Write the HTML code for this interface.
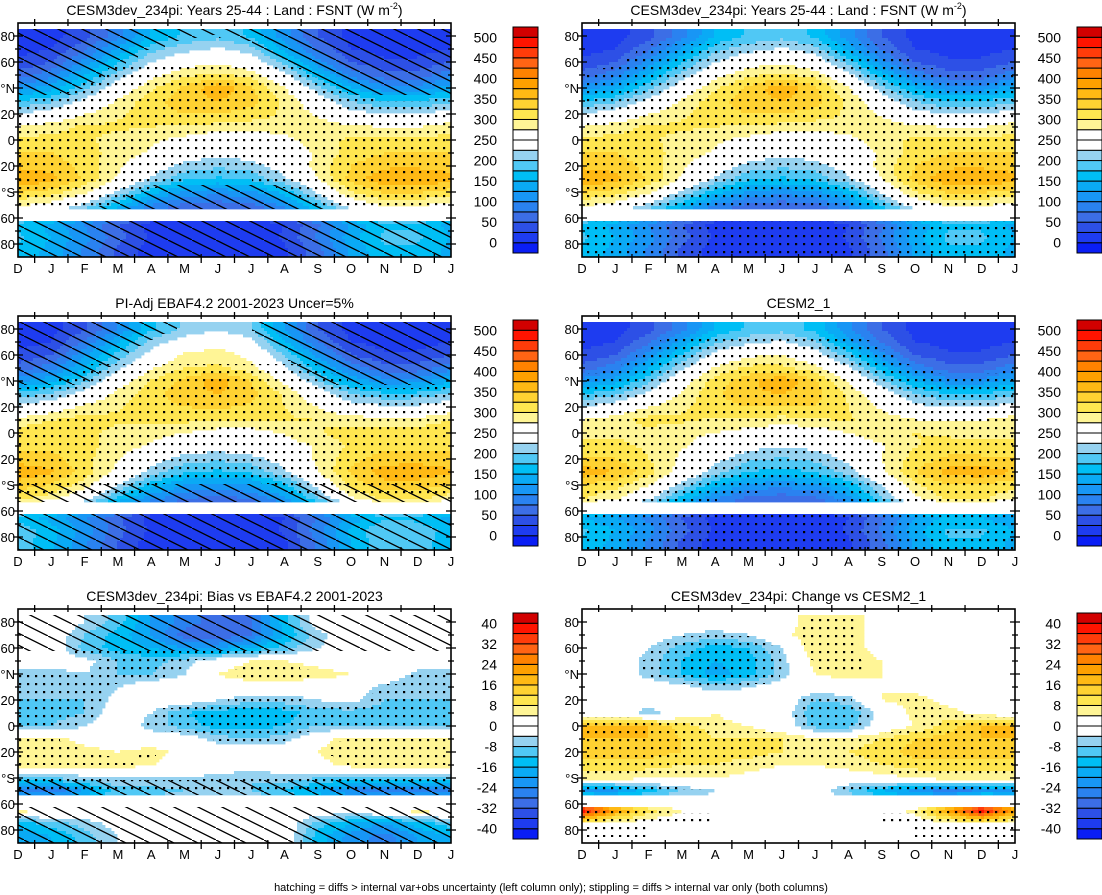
<!DOCTYPE html>
<html><head><meta charset="utf-8"><style>
html,body{margin:0;padding:0;background:#fff;}
svg{display:block;font-family:"Liberation Sans",Arial,sans-serif;}
</style></head><body>
<svg id="fig" xmlns="http://www.w3.org/2000/svg" width="1102" height="895" viewBox="0 0 1102 895">
<defs>
<pattern id="dots" patternUnits="userSpaceOnUse" width="8" height="8"><rect x="3" y="3" width="2.2" height="2.2" fill="#000"/></pattern>
<pattern id="hatch" patternUnits="userSpaceOnUse" width="24" height="12"><line x1="-2" y1="-1" x2="26" y2="13" stroke="#000" stroke-width="1.3"/></pattern>
</defs>
<text x="551" y="891" font-size="11" text-anchor="middle">hatching = diffs &gt; internal var+obs uncertainty (left column only); stippling = diffs &gt; internal var only (both columns)</text>
</svg>
<script>
const LATS=[80,70,60,50,40,30,20,10,0,-10,-20,-30,-40,-50,-65,-75,-85];
const MONTHS=['D','J','F','M','A','M','J','J','A','S','O','N','D','J'];
const FSNT_TICKS=[0,50,100,150,200,250,300,350,400,450,500];
const DIFF_TICKS=[-40,-32,-24,-16,-8,0,8,16,24,32,40];
const LAT_TICKS=[80,60,40,20,0,-20,-40,-60,-80];
const LAT_LABELS=['80','60','°N','20','0','20','°S','60','80'];

const modelFSNT=[
[10,15,40,90,150,180,190,170,110,50,15,10,10,15],
[15,25,70,130,190,215,230,210,140,70,25,15,15,25],
[30,50,110,170,225,260,270,250,190,110,50,30,30,50],
[60,90,150,210,265,295,305,290,235,160,90,60,60,90],
[110,140,190,250,295,330,370,330,275,210,150,110,110,140],
[175,195,235,280,315,340,350,335,295,250,200,175,175,195],
[225,245,275,295,315,325,325,315,295,270,240,225,225,245],
[275,290,305,305,300,295,290,285,290,290,280,275,275,290],
[305,310,305,290,280,265,245,245,265,290,305,305,305,310],
[325,325,310,290,270,245,235,240,255,280,310,325,325,325],
[345,340,315,280,245,215,205,215,240,285,325,345,345,340],
[375,360,320,270,220,180,170,180,220,275,335,370,375,360],
[330,315,280,220,160,120,110,120,160,230,300,330,330,315],
[280,260,220,160,100,70,60,70,110,180,245,280,280,260],
[170,140,100,50,15,5,0,5,25,70,130,170,170,140],
[180,150,110,60,20,5,0,5,30,80,140,180,180,150],
[170,140,95,45,10,0,0,0,20,65,130,170,170,140]];
const obsFSNT=[
[10,15,45,100,170,205,220,200,125,50,15,10,10,15],
[15,25,80,145,210,245,262,240,155,75,25,15,15,25],
[30,50,120,185,240,280,290,265,200,115,50,30,30,50],
[60,90,152,218,272,300,305,285,232,160,90,60,60,90],
[115,145,194,258,302,333,365,322,267,204,146,108,115,145],
[183,203,243,284,315,340,350,335,295,250,200,181,183,203],
[233,253,283,297,315,325,329,321,301,274,242,233,233,253],
[285,300,313,305,304,307,304,301,304,300,290,285,285,300],
[313,318,309,290,286,275,259,259,277,298,313,313,313,318],
[319,319,308,290,270,245,241,248,261,278,304,319,319,319],
[339,334,309,276,239,213,205,215,240,281,317,337,339,334],
[369,354,314,264,216,178,170,180,220,273,329,364,369,354],
[338,323,286,224,164,124,116,128,166,238,310,340,338,323],
[308,288,240,170,110,78,66,78,122,198,269,308,308,288],
[165,140,105,55,15,5,0,5,25,75,135,172,165,140],
[195,160,115,60,20,5,0,5,30,90,155,200,195,160],
[190,156,105,49,10,0,0,0,20,79,152,196,190,156]];
const cesm2FSNT=[
[10,15,40,90,150,180,190,166,106,50,15,10,10,15],
[15,25,70,134,196,219,230,204,136,70,25,15,15,25],
[30,50,110,178,237,270,274,244,186,110,50,30,30,50],
[60,90,150,220,279,307,307,286,233,160,90,60,60,90],
[110,140,194,262,311,342,374,328,271,208,150,110,110,140],
[175,195,235,280,321,344,350,335,295,248,200,175,175,195],
[225,245,275,295,315,325,325,323,301,268,236,225,225,245],
[275,290,311,305,296,295,290,297,302,292,276,271,275,290],
[289,294,289,280,274,261,245,255,275,290,301,295,289,294],
[309,309,294,278,262,237,227,234,249,272,298,311,309,309],
[331,326,301,268,235,205,197,207,232,275,311,331,331,326],
[365,350,310,262,212,174,166,176,214,267,325,360,365,350],
[324,309,276,216,156,118,110,120,160,228,296,324,324,309],
[304,282,234,168,104,70,60,70,118,196,267,308,304,282],
[150,125,92,48,15,5,0,5,25,70,125,158,150,125],
[180,150,110,60,20,5,0,5,30,80,140,180,180,150],
[170,140,95,45,10,0,0,0,20,65,130,170,170,140]];
const biasObs=[
[0,0,-4,-10,-20,-26,-30,-28,-14,0,0,0,0,0],
[0,0,-8,-14,-20,-30,-32,-28,-16,-6,0,0,0,0],
[0,0,-10,-14,-16,-20,-20,-16,-10,-4,0,0,0,0],
[0,0,-2,-8,-10,-6,0,4,4,2,0,0,0,0],
[-6,-6,-4,-8,-8,-4,4,8,8,6,4,2,-6,-6],
[-8,-8,-8,-4,0,0,0,0,0,0,0,-6,-8,-8],
[-8,-8,-8,-2,0,0,-4,-6,-6,-4,-2,-8,-8,-8],
[-10,-10,-8,0,-4,-12,-14,-16,-14,-10,-10,-10,-10,-10],
[-8,-8,-4,0,-6,-10,-14,-14,-12,-8,-8,-8,-8,-8],
[6,6,2,0,0,0,-6,-8,-6,2,6,6,6,6],
[6,6,6,4,6,2,0,0,0,4,8,8,6,6],
[6,6,6,6,4,2,0,0,0,2,6,6,6,6],
[-8,-8,-6,-4,-4,-4,-6,-8,-6,-8,-10,-10,-8,-8],
[-28,-28,-20,-10,-10,-8,-6,-8,-12,-18,-24,-28,-28,-28],
[6,4,0,0,0,0,0,0,0,0,0,4,6,4],
[-14,-10,-6,-2,0,0,0,0,0,-10,-16,-20,-14,-10],
[-20,-16,-10,-4,0,0,0,0,0,-14,-22,-26,-20,-16]];
const changeCesm2=[
[0,0,0,0,0,0,2,6,6,2,0,0,0,0],
[0,0,0,-4,-6,-4,2,8,6,2,0,0,0,0],
[0,0,-4,-10,-14,-12,-4,8,6,2,0,0,0,0],
[0,0,-6,-12,-16,-14,-6,6,6,4,0,0,0,0],
[0,0,-6,-12,-18,-14,-6,4,6,4,2,0,0,0],
[0,0,0,-2,-6,-4,0,0,0,4,2,0,0,0],
[0,0,-2,0,0,0,0,-8,-6,4,6,2,0,0],
[0,0,-6,0,4,0,0,-12,-12,-2,6,6,2,0],
[16,16,16,10,6,4,0,-10,-10,0,4,10,16,16],
[16,16,16,12,8,8,8,6,6,8,12,14,16,16],
[14,14,14,12,10,10,8,8,8,10,14,14,14,14],
[10,10,10,8,8,6,4,4,6,8,10,10,10,10],
[6,6,4,4,4,2,0,0,0,2,4,6,6,6],
[-24,-22,-14,-8,-4,0,0,0,-8,-16,-22,-28,-24,-22],
[40,22,10,4,0,0,0,0,0,0,6,22,40,22],
[4,2,0,0,0,0,0,0,0,0,0,2,4,2],
[0,0,0,0,0,0,0,0,0,0,0,0,0,0]];

const COLORS=['#0a1ef5','#1e3cf0','#2d50e6','#3c6ee6','#2a82f0','#1896f5','#0aaaf5','#00bef5','#50c8f5','#96d2f0','#ffffff','#ffffff','#fff596','#ffe650','#ffd232','#ffb914','#ffa000','#ff8200','#ff6414','#ff3c0a','#ff1400','#d20000'];

const NS='http://www.w3.org/2000/svg';
const svg=document.getElementById('fig');
function el(tag,attrs,parent){const e=document.createElementNS(NS,tag);for(const k in attrs)e.setAttribute(k,attrs[k]);(parent||svg).appendChild(e);return e;}

const panels=[
{name:'model-fsnt-left',x0:18,y0:23,grid:modelFSNT,kind:'fsnt',title:'CESM3dev_234pi: Years 25-44 : Land : FSNT (W m',sup:'-2',
 hatch:(v,l)=>v<190&&Math.abs(l)>35, stip:(v,l)=>v>=175&&v<400&&l>-50&&l<58},
{name:'model-fsnt-right',x0:582,y0:23,grid:modelFSNT,kind:'fsnt',title:'CESM3dev_234pi: Years 25-44 : Land : FSNT (W m',sup:'-2',
 hatch:()=>false, stip:(v,l)=>(v>60&&v<390&&l<75)||l<-63},
{name:'obs-fsnt',x0:18,y0:316,grid:obsFSNT,kind:'fsnt',title:'PI-Adj EBAF4.2 2001-2023 Uncer=5%',
 hatch:(v,l)=>(v<200&&l>38)||l<-40, stip:(v,l)=>l>-50&&l<52&&v>150},
{name:'cesm2-fsnt',x0:582,y0:316,grid:cesm2FSNT,kind:'fsnt',title:'CESM2_1',
 hatch:()=>false, stip:(v,l)=>(v>90&&v<390&&l<75)||l<-63},
{name:'bias-vs-obs',x0:18,y0:609,grid:biasObs,kind:'diff',title:'CESM3dev_234pi: Bias vs EBAF4.2 2001-2023',
 hatch:(v,l)=>l>58||l<-42, stip:(v,l)=>Math.abs(v)>=5&&l<58&&l>-50},
{name:'change-vs-cesm2',x0:582,y0:609,grid:changeCesm2,kind:'diff',title:'CESM3dev_234pi: Change vs CESM2_1',
 hatch:()=>false, stip:(v,l)=>Math.abs(v)>=5||(l<-66&&l>-85&&(v!==0))}
];
const W=433,H=234;

function interp(grid,lat,fx){
  let r0,r1,t;
  if(lat>=LATS[0]){r0=r1=0;t=0;}
  else if(lat<=LATS[LATS.length-1]){r0=r1=LATS.length-1;t=0;}
  else{for(let i=0;i<LATS.length-1;i++){if(lat<=LATS[i]&&lat>=LATS[i+1]){r0=i;r1=i+1;t=(LATS[i]-lat)/(LATS[i]-LATS[i+1]);break;}}}
  const c0=Math.min(12,Math.floor(fx)),u=fx-c0;
  const a=grid[r0][c0]*(1-u)+grid[r0][c0+1]*u;
  const b=grid[r1][c0]*(1-u)+grid[r1][c0+1]*u;
  return a*(1-t)+b*t;
}
function levelIndex(v,kind){
  let k;
  if(kind==='fsnt')k=v<0?0:Math.floor(v/25)+1;
  else k=v<-40?0:Math.floor((v+40)/4)+1;
  return Math.max(0,Math.min(21,k));
}

panels.forEach(p=>{
  const g=el('g',{});
  
  
  const fld=el('g',{},g);
  
  
  const ov=el('g',{},g);
  
  
  const cw=3,chh=3;
  const nx=Math.ceil(W/cw),ny=Math.ceil(H/chh);
  for(let j=0;j<ny;j++){
    const y=p.y0+j*chh, hh=Math.min(chh,p.y0+H-y);
    const lat=90-((j+0.5)*chh)/H*180;
    if(lat>85||(lat<-54&&lat>-63))continue;
    let runStart=0;
    const ks=[],hv=[],sv=[];
    for(let i=0;i<nx;i++){
      const fx=((i+0.5)*cw)/W*13;
      const v=interp(p.grid,lat,fx);
      ks.push(levelIndex(v,p.kind));hv.push(p.hatch(v,lat));sv.push(p.stip(v,lat));
    }
    ks.push(-1);hv.push(null);sv.push(null);
    for(let i=1;i<=nx;i++){
      if(ks[i]!==ks[runStart]){
        const k=ks[runStart];
        if(COLORS[k]!=='#ffffff'){
          const x=p.x0+runStart*cw,w=Math.min(i*cw,W)-runStart*cw;
          const r=el('rect',{x:x,y:y,width:w+0.4,height:hh+0.4,fill:COLORS[k]},fld);
          
          
        }
        runStart=i;
      }
    }
    [[hv,'url(#hatch)','hatch-region'],[sv,'url(#dots)','stipple-region']].forEach(([arr,fill,nm])=>{
      let s=0;
      for(let i=1;i<=nx;i++){
        if(arr[i]!==arr[s]){
          if(arr[s]){
            const x=p.x0+s*cw,w=Math.min(i*cw,W)-s*cw;
            const r=el('rect',{x:x,y:y,width:w,height:hh,fill:fill},ov);
            
            
          }
          s=i;
        }
      }
    });
  }
  const fr=el('rect',{x:p.x0,y:p.y0,width:W,height:H,fill:'none',stroke:'#000','stroke-width':1.6},g);
  
  
  for(let l=-80;l<=80;l+=10){
    const y=p.y0+(90-l)/180*H, len=(l%20===0)?5:3;
    el('line',{x1:p.x0-len,x2:p.x0+len,y1:y,y2:y,stroke:'#000','stroke-width':1.3},g);
    el('line',{x1:p.x0+W-len,x2:p.x0+W+len,y1:y,y2:y,stroke:'#000','stroke-width':1.3},g);
  }
  LAT_TICKS.forEach((l,i)=>{
    const t=el('text',{x:p.x0-3,y:p.y0+(90-l)/180*H+5,'font-size':13,'text-anchor':'end'},g);
    t.textContent=LAT_LABELS[i];
    
    
  });
  MONTHS.forEach((m,i)=>{
    const x=p.x0+i*W/13;
    const t=el('text',{x:x,y:p.y0+H+16,'font-size':13,'text-anchor':'middle'},g);
    t.textContent=m;
    
    
    if(i<13){const xm=x+W/26;
      el('line',{x1:xm,x2:xm,y1:p.y0+H-3,y2:p.y0+H+6,stroke:'#000','stroke-width':1.3},g);
      el('line',{x1:xm,x2:xm,y1:p.y0-4,y2:p.y0+3,stroke:'#000','stroke-width':1.3},g);}
  });
  const tt=el('text',{x:p.x0+W/2,y:p.y0-8,'font-size':14,'text-anchor':'middle'},g);
  
  
  tt.appendChild(document.createTextNode(p.title));
  if(p.sup){const s=el('tspan',{'font-size':9,dy:-6},tt);s.textContent=p.sup;const s2=el('tspan',{dy:6},tt);s2.textContent=')';}
  const cbx=p.x0+W+62,cby=p.y0+4,cbh=H-8,bh=cbh/22;
  const cb=el('g',{},g);
  
  
  for(let k=0;k<22;k++){
    const r=el('rect',{x:cbx,y:cby+cbh-(k+1)*bh,width:25,height:bh,fill:COLORS[k],stroke:'#000','stroke-width':1},cb);
    
    
  }
  const ticks=p.kind==='fsnt'?FSNT_TICKS:DIFF_TICKS;
  ticks.forEach(v=>{
    const k=p.kind==='fsnt'?v/25+1:(v+40)/4+1;
    const t=el('text',{x:cbx-16,y:cby+cbh-k*bh+5,'font-size':14,'text-anchor':'end'},cb);
    t.textContent=String(v);
    
    
  });
});
</script>
</body></html>
